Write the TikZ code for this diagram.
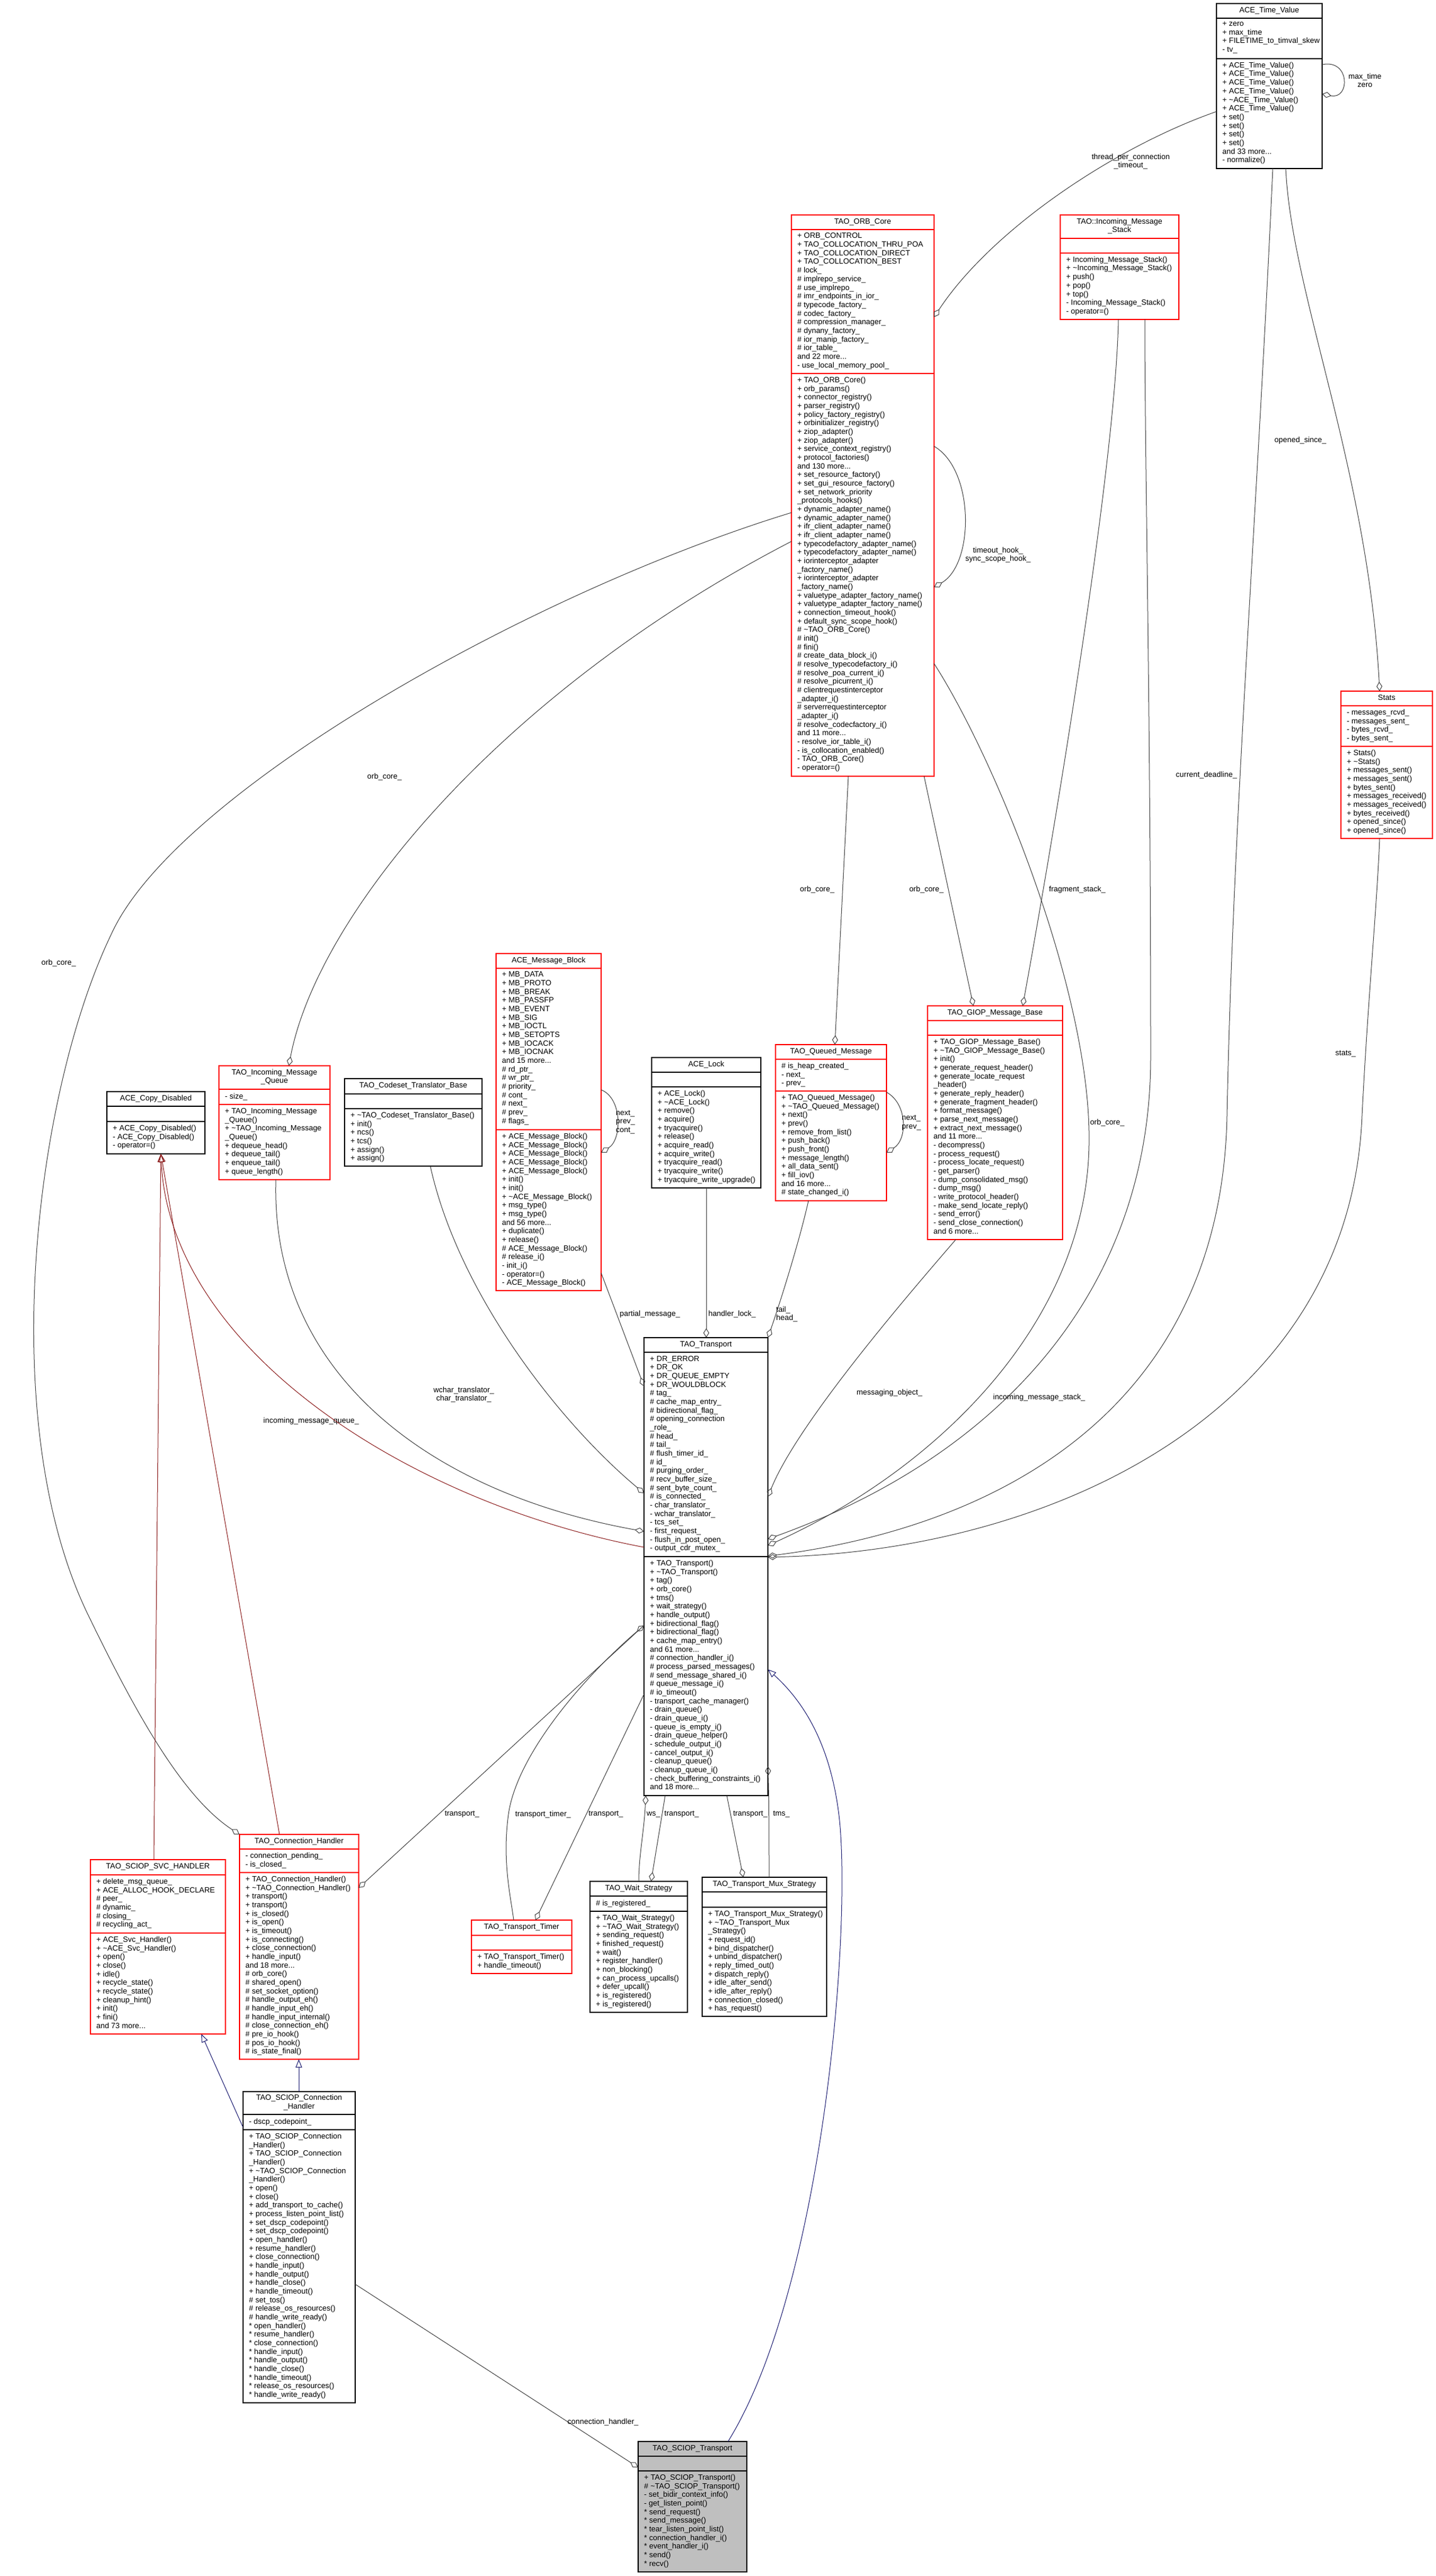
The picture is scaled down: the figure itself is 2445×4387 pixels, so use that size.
\documentclass[tikz,border=0pt]{standalone}
\usepackage{fontspec}
\setmainfont{Liberation Sans}
\usetikzlibrary{arrows.meta}
\definecolor{edgegray}{HTML}{404040}
\definecolor{redbox}{HTML}{FF0000}
\definecolor{midblue}{HTML}{191970}
\definecolor{firebrick}{HTML}{8B1A1A}
\definecolor{boxgray}{HTML}{BFBFBF}
\newcommand\nodefont{\fontsize{13}{14.67}\selectfont}
\tikzset{
 clsbox/.style={draw=#1, line width=1.3pt, inner sep=0pt, outer sep=0pt},
 ttl/.style={font=\nodefont, align=center, inner sep=0pt, execute at begin node=\strut, execute at end node=\strut},
 sec/.style={font=\nodefont, align=left, inner sep=0pt, anchor=north west, execute at begin node=\strut},
 agg/.style={draw=edgegray, line width=1pt, {Diamond[open, length=16pt, width=10pt]}-},
 inhred/.style={draw=firebrick, line width=1pt, -{Triangle[open, length=14pt, width=11pt]}},
 inhblue/.style={draw=midblue, line width=1pt, -{Triangle[open, length=14pt, width=11pt]}},
 lbl/.style={font=\nodefont, align=center, inner sep=0pt},
 lbll/.style={font=\nodefont, align=left, inner sep=0pt, anchor=west},
}
\def\clsgeom#1/#2/#3/#4/#5/#6\relax{\def\gxa{#1}\def\gya{#2}\def\gxb{#3}\def\gsa{#4}\def\gsb{#5}\def\gyb{#6}}
\newcommand\cls[7]{%
 \clsgeom#2\relax
 \pgfmathsetmacro\gw{\gxb-\gxa}%
 \pgfmathsetmacro\gh{\gyb-\gya}%
 \pgfmathsetmacro\gcx{(\gxa+\gxb)/2}%
 \pgfmathsetmacro\gty{(\gya+\gsa)/2}%
 \pgfmathsetmacro\gtx{\gxa+10}%
 \pgfmathsetmacro\gay{\gsa+5.7}%
 \pgfmathsetmacro\gmy{\gsb+5.7}%
 \node[clsbox=#3, fill=#4, minimum width=\gw pt, minimum height=\gh pt, anchor=north west] (#1) at (\gxa,\gya) {};
 \draw[draw=#3, line width=1.3pt] (#1.west |- 0,\gsa) -- (#1.east |- 0,\gsa);
 \draw[draw=#3, line width=1.3pt] (#1.west |- 0,\gsb) -- (#1.east |- 0,\gsb);
 \node[ttl] (#1-t) at (\gcx,\gty) {#5};
 \node[sec] (#1-a) at (\gtx,\gay) {#6};
 \node[sec] (#1-m) at (\gtx,\gmy) {#7};
}
\begin{document}
\catcode`\_=12 \catcode`\#=12 \catcode`\~=12
\begin{tikzpicture}[x=1pt,y=-1pt]
\useasboundingbox[fill=white] (0,0) rectangle (2445,4387);

% ---------------- classes ----------------
\cls{tv}{2072/6/2252/31/100/287}{black}{white}{ACE_Time_Value}
{+ zero\\+ max_time\\+ FILETIME_to_timval_skew\\- tv_}
{+ ACE_Time_Value()\\+ ACE_Time_Value()\\+ ACE_Time_Value()\\+ ACE_Time_Value()\\+ ~ACE_Time_Value()\\+ ACE_Time_Value()\\+ set()\\+ set()\\+ set()\\+ set()\\and 33 more...\\- normalize()}

\cls{orb}{1348/366/1591/391/636/1322}{redbox}{white}{TAO_ORB_Core}
{+ ORB_CONTROL\\+ TAO_COLLOCATION_THRU_POA\\+ TAO_COLLOCATION_DIRECT\\+ TAO_COLLOCATION_BEST\\# lock_\\# implrepo_service_\\# use_implrepo_\\# imr_endpoints_in_ior_\\# typecode_factory_\\# codec_factory_\\# compression_manager_\\# dynany_factory_\\# ior_manip_factory_\\# ior_table_\\and 22 more...\\- use_local_memory_pool_}
{+ TAO_ORB_Core()\\+ orb_params()\\+ connector_registry()\\+ parser_registry()\\+ policy_factory_registry()\\+ orbinitializer_registry()\\+ ziop_adapter()\\+ ziop_adapter()\\+ service_context_registry()\\+ protocol_factories()\\and 130 more...\\+ set_resource_factory()\\+ set_gui_resource_factory()\\+ set_network_priority\\_protocols_hooks()\\+ dynamic_adapter_name()\\+ dynamic_adapter_name()\\+ ifr_client_adapter_name()\\+ ifr_client_adapter_name()\\+ typecodefactory_adapter_name()\\+ typecodefactory_adapter_name()\\+ iorinterceptor_adapter\\_factory_name()\\+ iorinterceptor_adapter\\_factory_name()\\+ valuetype_adapter_factory_name()\\+ valuetype_adapter_factory_name()\\+ connection_timeout_hook()\\+ default_sync_scope_hook()\\# ~TAO_ORB_Core()\\# init()\\# fini()\\# create_data_block_i()\\# resolve_typecodefactory_i()\\# resolve_poa_current_i()\\# resolve_picurrent_i()\\# clientrequestinterceptor\\_adapter_i()\\# serverrequestinterceptor\\_adapter_i()\\# resolve_codecfactory_i()\\and 11 more...\\- resolve_ior_table_i()\\- is_collocation_enabled()\\- TAO_ORB_Core()\\- operator=()}

\cls{ims}{1806/366/2008/406/431/544}{redbox}{white}{TAO::Incoming_Message\\_Stack}
{}
{+ Incoming_Message_Stack()\\+ ~Incoming_Message_Stack()\\+ push()\\+ pop()\\+ top()\\- Incoming_Message_Stack()\\- operator=()}

\cls{stats}{2284/1177/2440/1202/1271/1428}{redbox}{white}{Stats}
{- messages_rcvd_\\- messages_sent_\\- bytes_rcvd_\\- bytes_sent_}
{+ Stats()\\+ ~Stats()\\+ messages_sent()\\+ messages_sent()\\+ bytes_sent()\\+ messages_received()\\+ messages_received()\\+ bytes_received()\\+ opened_since()\\+ opened_since()}

\cls{giop}{1580/1713/1810/1738/1763/2111}{redbox}{white}{TAO_GIOP_Message_Base}
{}
{+ TAO_GIOP_Message_Base()\\+ ~TAO_GIOP_Message_Base()\\+ init()\\+ generate_request_header()\\+ generate_locate_request\\_header()\\+ generate_reply_header()\\+ generate_fragment_header()\\+ format_message()\\+ parse_next_message()\\+ extract_next_message()\\and 11 more...\\- decompress()\\- process_request()\\- process_locate_request()\\- get_parser()\\- dump_consolidated_msg()\\- dump_msg()\\- write_protocol_header()\\- make_send_locate_reply()\\- send_error()\\- send_close_connection()\\and 6 more...}

\cls{qm}{1321/1779/1510/1804/1858/2045}{redbox}{white}{TAO_Queued_Message}
{# is_heap_created_\\- next_\\- prev_}
{+ TAO_Queued_Message()\\+ ~TAO_Queued_Message()\\+ next()\\+ prev()\\+ remove_from_list()\\+ push_back()\\+ push_front()\\+ message_length()\\+ all_data_sent()\\+ fill_iov()\\and 16 more...\\# state_changed_i()}

\cls{lock}{1110/1801/1296/1826/1851/2023}{black}{white}{ACE_Lock}
{}
{+ ACE_Lock()\\+ ~ACE_Lock()\\+ remove()\\+ acquire()\\+ tryacquire()\\+ release()\\+ acquire_read()\\+ acquire_write()\\+ tryacquire_read()\\+ tryacquire_write()\\+ tryacquire_write_upgrade()}

\cls{mb}{845/1624/1024/1649/1924/2198}{redbox}{white}{ACE_Message_Block}
{+ MB_DATA\\+ MB_PROTO\\+ MB_BREAK\\+ MB_PASSFP\\+ MB_EVENT\\+ MB_SIG\\+ MB_IOCTL\\+ MB_SETOPTS\\+ MB_IOCACK\\+ MB_IOCNAK\\and 15 more...\\# rd_ptr_\\# wr_ptr_\\# priority_\\# cont_\\# next_\\# prev_\\# flags_}
{+ ACE_Message_Block()\\+ ACE_Message_Block()\\+ ACE_Message_Block()\\+ ACE_Message_Block()\\+ ACE_Message_Block()\\+ init()\\+ init()\\+ ~ACE_Message_Block()\\+ msg_type()\\+ msg_type()\\and 56 more...\\+ duplicate()\\+ release()\\# ACE_Message_Block()\\# release_i()\\- init_i()\\- operator=()\\- ACE_Message_Block()}

\cls{cst}{587/1837/821/1863/1888/1986}{black}{white}{TAO_Codeset_Translator_Base}
{}
{+ ~TAO_Codeset_Translator_Base()\\+ init()\\+ ncs()\\+ tcs()\\+ assign()\\+ assign()}

\cls{imq}{373/1815/562/1855/1881/2009}{redbox}{white}{TAO_Incoming_Message\\_Queue}
{- size_}
{+ TAO_Incoming_Message\\_Queue()\\+ ~TAO_Incoming_Message\\_Queue()\\+ dequeue_head()\\+ dequeue_tail()\\+ enqueue_tail()\\+ queue_length()}

\cls{cd}{182/1859/349/1884/1910/1965}{black}{white}{ACE_Copy_Disabled}
{}
{+ ACE_Copy_Disabled()\\- ACE_Copy_Disabled()\\- operator=()}

\cls{tr}{1097/2278/1308/2303/2651/3058}{black}{white}{TAO_Transport}
{+ DR_ERROR\\+ DR_OK\\+ DR_QUEUE_EMPTY\\+ DR_WOULDBLOCK\\# tag_\\# cache_map_entry_\\# bidirectional_flag_\\# opening_connection\\_role_\\# head_\\# tail_\\# flush_timer_id_\\# id_\\# purging_order_\\# recv_buffer_size_\\# sent_byte_count_\\# is_connected_\\- char_translator_\\- wchar_translator_\\- tcs_set_\\- first_request_\\- flush_in_post_open_\\- output_cdr_mutex_}
{+ TAO_Transport()\\+ ~TAO_Transport()\\+ tag()\\+ orb_core()\\+ tms()\\+ wait_strategy()\\+ handle_output()\\+ bidirectional_flag()\\+ bidirectional_flag()\\+ cache_map_entry()\\and 61 more...\\# connection_handler_i()\\# process_parsed_messages()\\# send_message_shared_i()\\# queue_message_i()\\# io_timeout()\\- transport_cache_manager()\\- drain_queue()\\- drain_queue_i()\\- queue_is_empty_i()\\- drain_queue_helper()\\- schedule_output_i()\\- cancel_output_i()\\- cleanup_queue()\\- cleanup_queue_i()\\- check_buffering_constraints_i()\\and 18 more...}

\cls{svc}{154/3167/384/3193/3292/3464}{redbox}{white}{TAO_SCIOP_SVC_HANDLER}
{+ delete_msg_queue_\\+ ACE_ALLOC_HOOK_DECLARE\\# peer_\\# dynamic_\\# closing_\\# recycling_act_}
{+ ACE_Svc_Handler()\\+ ~ACE_Svc_Handler()\\+ open()\\+ close()\\+ idle()\\+ recycle_state()\\+ recycle_state()\\+ cleanup_hint()\\+ init()\\+ fini()\\and 73 more...}

\cls{ch}{408/3124/611/3149/3189/3507}{redbox}{white}{TAO_Connection_Handler}
{- connection_pending_\\- is_closed_}
{+ TAO_Connection_Handler()\\+ ~TAO_Connection_Handler()\\+ transport()\\+ transport()\\+ is_closed()\\+ is_open()\\+ is_timeout()\\+ is_connecting()\\+ close_connection()\\+ handle_input()\\and 18 more...\\# orb_core()\\# shared_open()\\# set_socket_option()\\# handle_output_eh()\\# handle_input_eh()\\# handle_input_internal()\\# close_connection_eh()\\# pre_io_hook()\\# pos_io_hook()\\# is_state_final()}

\cls{tt}{803/3270/974/3296/3321/3361}{redbox}{white}{TAO_Transport_Timer}
{}
{+ TAO_Transport_Timer()\\+ handle_timeout()}

\cls{ws}{1005/3204/1171/3229/3255/3427}{black}{white}{TAO_Wait_Strategy}
{# is_registered_}
{+ TAO_Wait_Strategy()\\+ ~TAO_Wait_Strategy()\\+ sending_request()\\+ finished_request()\\+ wait()\\+ register_handler()\\+ non_blocking()\\+ can_process_upcalls()\\+ defer_upcall()\\+ is_registered()\\+ is_registered()}

\cls{mux}{1196/3197/1408/3222/3248/3434}{black}{white}{TAO_Transport_Mux_Strategy}
{}
{+ TAO_Transport_Mux_Strategy()\\+ ~TAO_Transport_Mux\\_Strategy()\\+ request_id()\\+ bind_dispatcher()\\+ unbind_dispatcher()\\+ reply_timed_out()\\+ dispatch_reply()\\+ idle_after_send()\\+ idle_after_reply()\\+ connection_closed()\\+ has_request()}

\cls{sch}{414/3562/605/3601/3627/4092}{black}{white}{TAO_SCIOP_Connection\\_Handler}
{- dscp_codepoint_}
{+ TAO_SCIOP_Connection\\_Handler()\\+ TAO_SCIOP_Connection\\_Handler()\\+ ~TAO_SCIOP_Connection\\_Handler()\\+ open()\\+ close()\\+ add_transport_to_cache()\\+ process_listen_point_list()\\+ set_dscp_codepoint()\\+ set_dscp_codepoint()\\+ open_handler()\\+ resume_handler()\\+ close_connection()\\+ handle_input()\\+ handle_output()\\+ handle_close()\\+ handle_timeout()\\# set_tos()\\# release_os_resources()\\# handle_write_ready()\\{}* open_handler()\\{}* resume_handler()\\{}* close_connection()\\{}* handle_input()\\{}* handle_output()\\{}* handle_close()\\{}* handle_timeout()\\{}* release_os_resources()\\{}* handle_write_ready()}

\cls{sct}{1087/4158/1272/4183/4208/4380}{black}{boxgray}{TAO_SCIOP_Transport}
{}
{+ TAO_SCIOP_Transport()\\# ~TAO_SCIOP_Transport()\\- set_bidir_context_info()\\- get_listen_point()\\{}* send_request()\\{}* send_message()\\{}* tear_listen_point_list()\\{}* connection_handler_i()\\{}* event_handler_i()\\{}* send()\\{}* recv()}

% ---------------- connectors ----------------
% ORB_Core -> ACE_Time_Value
\draw[agg] (orb.east |- 0,540) .. controls (1690,390) and (1900,250) .. (tv.west |- 0,190);
\node[lbl] (l1) at (1926,275) {thread_per_connection\\_timeout_};
% ORB_Core self loop
\draw[agg] (orb.east |- 0,1000) .. controls (1660,960) and (1660,800) .. (orb.east |- 0,760);
\node[lbl] (l2) at (1700,945) {timeout_hook_\\sync_scope_hook_};
% ACE_Time_Value self loop
\draw[agg] (tv.east |- 0,160) .. controls (2300,170) and (2300,100) .. (tv.east |- 0,110);
\node[lbl] (l3) at (2325,137) {max_time\\zero};
% Stats -> ACE_Time_Value
\draw[agg] (stats.north -| 2350,0) .. controls (2330,800) and (2200,500) .. (tv.south -| 2190,0);
\node[lbl] (l4) at (2215,750) {opened_since_};
% Incoming queue -> ORB_Core
\draw[agg] (imq.north -| 492,0) .. controls (540,1560) and (850,1180) .. (orb.west |- 0,922);
\node[lbl] (l5) at (655,1323) {orb_core_};
% Connection handler -> ORB_Core
\draw[agg] (ch.north west) .. controls (310,3060) and (230,2915) .. (150,2750) .. controls (-10,2420) and (60,1860) .. (190,1590) .. controls (300,1350) and (900,1010) .. (orb.west |- 0,873);
\node[lbl] (l6) at (100,1640) {orb_core_};
% Queued message -> ORB_Core
\draw[agg] (qm.north -| 1422,0) -- (orb.south -| 1445,0);
\node[lbl] (l7) at (1392,1515) {orb_core_};
% GIOP -> ORB_Core
\draw[agg] (giop.north -| 1658,0) -- (orb.south -| 1574,0);
\node[lbl] (l8) at (1578,1515) {orb_core_};
% GIOP -> Incoming_Message_Stack
\draw[agg] (giop.north -| 1742,0) .. controls (1790,1450) and (1900,800) .. (ims.south -| 1905,0);
\node[lbl] (l9) at (1835,1515) {fragment_stack_};
% Transport -> Incoming_Message_Stack
\draw[agg] (tr.east |- 0,2621) .. controls (1700,2480) and (1960,2200) .. (1960,1800) .. controls (1960,1200) and (1950,800) .. (ims.south -| 1950,0);
\node[lbl] (l10) at (1770,2380) {incoming_message_stack_};
% Transport -> ORB_Core
\draw[agg] (tr.east |- 0,2632) .. controls (1600,2500) and (1850,2250) .. (1855,1950) .. controls (1860,1700) and (1700,1300) .. (orb.east |- 0,1130);
\node[lbl] (l11) at (1886,1912) {orb_core_};
% Transport -> GIOP
\draw[agg] (tr.east |- 0,2549) .. controls (1360,2420) and (1560,2190) .. (giop.south -| 1628,0);
\node[lbl] (l12) at (1515,2372) {messaging_object_};
% Transport -> ACE_Time_Value
\draw[agg] (tr.east |- 0,2650) .. controls (1700,2600) and (2080,2400) .. (2090,1900) .. controls (2100,1400) and (2140,900) .. (tv.south -| 2168,0);
\node[lbl] (l13) at (2055,1320) {current_deadline_};
% Transport -> Stats
\draw[agg] (tr.east |- 0,2652) .. controls (1800,2640) and (2300,2400) .. (2320,1900) .. controls (2330,1700) and (2345,1550) .. (stats.south -| 2350,0);
\node[lbl] (l14) at (2292,1795) {stats_};
% Message block self loop
\draw[agg] (mb.east |- 0,1963) .. controls (1060,1940) and (1060,1870) .. (mb.east |- 0,1856);
\node[lbll] (l15) at (1049,1911) {next_\\prev_\\cont_};
% Queued message self loop
\draw[agg] (qm.east |- 0,1963) .. controls (1546,1940) and (1546,1880) .. (qm.east |- 0,1860);
\node[lbll] (l16) at (1536,1912) {next_\\prev_};
% Transport -> Message block
\draw[agg] (tr.west |- 0,2361) -- (mb.east |- 0,2168);
\node[lbl] (l17) at (1107,2238) {partial_message_};
% Transport -> ACE_Lock
\draw[agg] (tr.north -| 1203,0) -- (lock.south -| 1203,0);
\node[lbl] (l18) at (1247,2238) {handler_lock_};
% Transport -> Queued message
\draw[agg] (tr.north east) .. controls (1335,2200) and (1365,2100) .. (qm.south -| 1377,0);
\node[lbll] (l19) at (1322,2238) {tail_\\head_};
% Transport -> Codeset translator
\draw[agg] (tr.west |- 0,2543) .. controls (950,2420) and (780,2200) .. (cst.south -| 733,0);
\node[lbl] (l20) at (790,2375) {wchar_translator_\\char_translator_};
% Transport -> Incoming queue
\draw[agg] (tr.west |- 0,2608) .. controls (720,2540) and (460,2330) .. (imq.south -| 470,0);
\node[lbl] (l21) at (530,2420) {incoming_message_queue_};
% inheritance ACE_Copy_Disabled
\draw[inhred] (tr.west |- 0,2635) .. controls (700,2560) and (290,2300) .. (cd.south -| 274,0);
\draw[inhred] (svc.north -| 262,0) -- (cd.south -| 274,0);
\draw[inhred] (ch.north -| 476,0) -- (cd.south -| 274,0);
% inheritance SCIOP
\draw[inhblue] (sch.north -| 509,0) -- (ch.south -| 509,0);
\draw[inhblue] (sch.west |- 0,3623) -- (svc.south -| 343,0);
\draw[inhblue] (sct.north -| 1240,0) .. controls (1400,3900) and (1450,3300) .. (1430,3100) .. controls (1415,2960) and (1360,2890) .. (tr.east |- 0,2843);
% bottom edges
\draw[agg] (ch.east |- 0,3215) -- (tr.west |- 0,2768);
\node[lbl] (l22) at (787,3090) {transport_};
\draw[agg] (tr.west |- 0,2768) .. controls (990,2860) and (880,2990) .. (866,3090) .. controls (855,3170) and (870,3230) .. (tt.north -| 875,0);
\node[lbl] (l23) at (925,3090) {transport_timer_};
\draw[agg] (tt.north -| 912,0) -- (tr.west |- 0,2885);
\node[lbl] (l24) at (1032,3090) {transport_};
\draw[agg] (tr.south -| 1100,0) .. controls (1097,3120) and (1088,3160) .. (ws.north -| 1088,0);
\node[lbl] (l25) at (1113,3090) {ws_};
\draw[agg] (ws.north -| 1109,0) -- (tr.south -| 1133,0);
\node[lbl] (l26) at (1161,3090) {transport_};
\draw[agg] (mux.north -| 1266,0) -- (tr.south -| 1238,0);
\node[lbl] (l27) at (1278,3090) {transport_};
\draw[agg] (tr.east |- 0,3008) .. controls (1310,3060) and (1310,3150) .. (mux.north -| 1310,0);
\node[lbl] (l28) at (1331,3090) {tms_};
% SCIOP transport -> SCIOP connection handler
\draw[agg] (sct.west |- 0,4202) -- (sch.east |- 0,3890);
\node[lbl] (l29) at (1027,4125) {connection_handler_};
\end{tikzpicture}
\end{document}
